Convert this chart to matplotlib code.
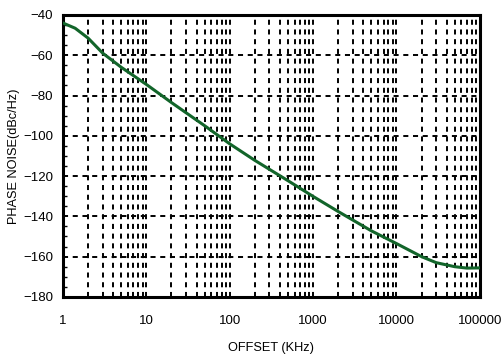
import matplotlib
matplotlib.use('Agg')
import matplotlib.pyplot as plt
from matplotlib.ticker import FixedLocator, MultipleLocator, NullFormatter

plt.rcParams['font.family'] = ['Liberation Sans', 'DejaVu Sans']

# offset frequency (KHz) and phase noise (dBc/Hz)
offset = [1, 1.4, 2, 3, 5, 10, 20, 50, 100, 200, 500, 1000, 2000,
          5000, 10000, 20000, 30000, 50000, 70000, 100000]
noise = [-44, -46.6, -51.5, -59, -66, -74.5, -83.5, -95, -104, -112.2,
         -122.3, -130.1, -137.6, -147.2, -153.5, -160, -163, -165,
         -165.7, -165.6]

xticks = [1, 10, 100, 1000, 10000, 100000]
xlabels = ['1', '10', '100', '1000', '10000', '100000']
yticks = list(range(-180, -39, 20))

fig = plt.figure(figsize=(5.04, 3.56), dpi=100)
ax = fig.add_axes([0.125, 0.166, 0.827, 0.792])

ax.plot(offset, noise, color='#12652a', linewidth=2.2, zorder=3)

ax.set_xscale('log')
ax.set_xlim(1, 100000)
ax.set_ylim(-180, -40)

ax.xaxis.set_major_locator(FixedLocator(xticks))
ax.set_xticklabels(xlabels)
minors = [m * 10 ** d for d in range(5) for m in range(2, 10)]
ax.xaxis.set_minor_locator(FixedLocator(minors))
ax.xaxis.set_minor_formatter(NullFormatter())
ax.set_yticks(yticks)
ax.yaxis.set_minor_locator(MultipleLocator(5))

dash = (0, (2.6, 2.4))
ax.grid(True, which='both', axis='x', color='black', linestyle=dash, linewidth=1.4)
ax.grid(True, which='major', axis='y', color='black', linestyle=dash, linewidth=1.4)

ax.tick_params(axis='x', which='both', length=0, pad=13, labelsize=9.5)
ax.tick_params(axis='y', which='major', length=0, pad=7, labelsize=9.5)
ax.tick_params(axis='y', which='minor', direction='in', length=3, width=1)

for s in ax.spines.values():
    s.set_linewidth(2.2)

ax.set_xlabel('OFFSET (KHz)', fontsize=9.2, labelpad=11)
ax.set_ylabel('PHASE NOISE(dBc/Hz)', fontsize=9.2, labelpad=2)

fig.savefig('out.png', dpi=100)
